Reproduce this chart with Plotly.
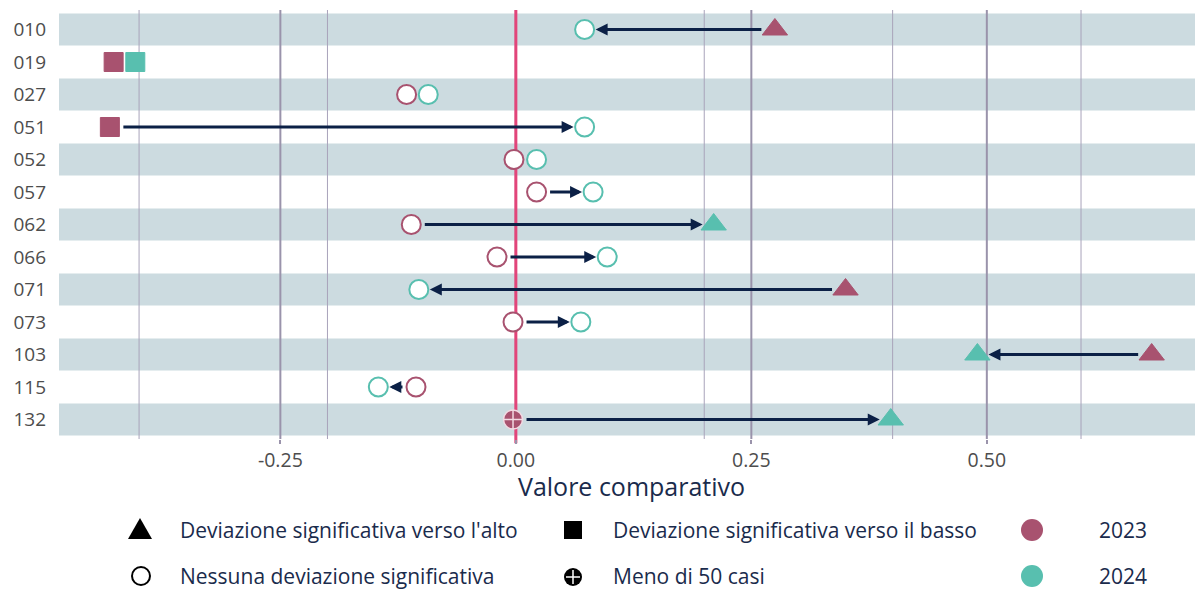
import plotly.graph_objects as go

# ---------------- data ----------------
codes = ["010", "019", "027", "051", "052", "057", "062", "066", "071", "073", "103", "115", "132"]
v2023 = [0.275, -0.427, -0.116, -0.431, -0.002, 0.022, -0.111, -0.020, 0.350, -0.003, 0.675, -0.106, -0.003]
v2024 = [0.073, -0.404, -0.093, 0.073, 0.022, 0.082, 0.210, 0.097, -0.103, 0.069, 0.490, -0.146, 0.398]
# significance status: up / down / none / few (meno di 50 casi)
s2023 = ["up", "down", "none", "down", "none", "none", "none", "none", "up", "none", "up", "none", "few"]
s2024 = ["none", "down", "none", "none", "none", "none", "up", "none", "none", "none", "up", "none", "up"]
x_ticks = [-0.25, 0.0, 0.25, 0.5]
x_ticklabels = ["-0.25", "0.00", "0.25", "0.50"]
x_minor = [-0.4, -0.2, 0.2, 0.4, 0.6]
legend_shapes = ["Deviazione significativa verso l'alto", "Nessuna deviazione significativa",
                 "Deviazione significativa verso il basso", "Meno di 50 casi"]
years = ["2023", "2024"]

# ---------------- style ----------------
C23 = "#A8526F"
C24 = "#58BFAF"
NAVY = "#0B2046"
BAND = "#CCDBE0"
GRID = "#9A93AB"
GRID_MINOR = "#A9A3BA"
ZERO = "#E2457A"
TXT = "#1A2B4C"
TICK_TXT = "#4D4D4D"
FONT = "Open Sans"

W, H = 1195, 590
ML, MR, MT, MB = 59, 0, 10, 151
PW, PH = W - ML - MR, H - MT - MB
XR = [-0.485, 0.721]
YR = [len(codes) - 0.4, -0.6]


def px2paper(px):
    return (px - ML) / PW


def py2paper(py):
    return (MT + PH - py) / PH


SYM = {"up": "triangle-up", "down": "square", "none": "circle", "few": "circle-cross"}
SIZE = {"up": 22, "down": 19, "none": 19, "few": 19}

ypos = list(range(len(codes)))


def marker_style(status, color):
    sym = [SYM[s] for s in status]
    size = [SIZE[s] for s in status]
    fill = ["white" if s == "none" else color for s in status]
    lcol = [color if s in ("none", "up", "down") else "#F2D9E2" for s in status]
    lw = [2 if s == "none" else (1.5 if s == "few" else 1) for s in status]
    return dict(symbol=sym, size=size, color=fill, line=dict(color=lcol, width=lw), opacity=1)


fig = go.Figure()

fig.add_trace(go.Scatter(x=v2023, y=ypos, mode="markers", name="2023",
                         marker=marker_style(s2023, C23), showlegend=False, cliponaxis=False))
fig.add_trace(go.Scatter(x=v2024, y=ypos, mode="markers", name="2024",
                         marker=marker_style(s2024, C24), showlegend=False, cliponaxis=False))

# arrows 2023 -> 2024
for i, (a, b) in enumerate(zip(v2023, v2024)):
    if abs(b - a) > 0.03:
        fig.add_annotation(x=b, y=i, ax=a, ay=i, xref="x", yref="y", axref="x", ayref="y",
                           text="", showarrow=True, arrowhead=2, arrowsize=0.8, arrowwidth=3,
                           arrowcolor=NAVY, standoff=11, startstandoff=12)

# alternating bands
for i in range(0, len(codes), 2):
    fig.add_shape(type="rect", xref="paper", x0=0, x1=1, yref="y", y0=i - 0.49, y1=i + 0.49,
                  fillcolor=BAND, line_width=0, layer="below")

# grid lines (drawn as shapes so the zero line can sit on top of them)
for v in x_minor:
    fig.add_shape(type="line", xref="x", x0=v, x1=v, yref="paper", y0=0, y1=1,
                  line=dict(color=GRID_MINOR, width=1), layer="below")
for v in x_ticks:
    fig.add_shape(type="line", xref="x", x0=v, x1=v, yref="paper", y0=0, y1=1,
                  line=dict(color=GRID, width=2), layer="below")

# zero line
fig.add_shape(type="line", xref="x", x0=0, x1=0, yref="paper", y0=-0.01, y1=1,
              line=dict(color=ZERO, width=3), layer="below")

# ---------------- legend (keys drawn as pixel-sized shapes) ----------------
def key(px, py, **kw):
    d = dict(xref="paper", yref="paper", xsizemode="pixel", ysizemode="pixel",
             xanchor=px2paper(px), yanchor=py2paper(py))
    d.update(kw)
    fig.add_shape(**d)


key(140, 529, type="path", path="M-12,-10 L12,-10 L0,11 Z", fillcolor="black", line_width=0)
key(141, 576, type="circle", x0=-9, x1=9, y0=-9, y1=9, fillcolor="white", line=dict(color="black", width=2))
key(573, 530, type="rect", x0=-9, x1=9, y0=-9, y1=9, fillcolor="black", line_width=0)
key(573, 577, type="circle", x0=-9, x1=9, y0=-9, y1=9, fillcolor="black", line_width=0)
key(573, 577, type="line", x0=-7, x1=7, y0=0, y1=0, line=dict(color="white", width=1.5))
key(573, 577, type="line", x0=0, x1=0, y0=-7, y1=7, line=dict(color="white", width=1.5))
key(1032, 530, type="circle", x0=-11, x1=11, y0=-11, y1=11, fillcolor=C23, line_width=0)
key(1032, 576, type="circle", x0=-11, x1=11, y0=-11, y1=11, fillcolor=C24, line_width=0)

leg_txt = legend_shapes + years
leg_tx = [178, 178, 611, 611, 1097, 1097]
leg_ty = [530, 576, 530, 576, 530, 576]
for t, x, y in zip(leg_txt, leg_tx, leg_ty):
    fig.add_annotation(x=px2paper(x), y=py2paper(y), xref="paper", yref="paper", text=t,
                       showarrow=False, xanchor="left", yanchor="middle",
                       font=dict(family=FONT, size=21, color=TXT))

# axis title
fig.add_annotation(x=px2paper(631), y=py2paper(486), xref="paper", yref="paper",
                   text="Valore comparativo", showarrow=False, xanchor="center", yanchor="middle",
                   font=dict(family=FONT, size=25, color=TXT))

fig.update_layout(
    width=W, height=H,
    margin=dict(l=ML, r=MR, t=MT, b=MB, autoexpand=False),
    paper_bgcolor="white", plot_bgcolor="white",
    font=dict(family=FONT, color=TICK_TXT),
    showlegend=False,
    xaxis=dict(range=XR, tickvals=x_ticks, ticktext=x_ticklabels,
               showgrid=False,
               ticks="outside", ticklen=4, tickwidth=2, tickcolor=GRID,
               tickfont=dict(family=FONT, size=19.5, color=TICK_TXT),
               ticklabelstandoff=0,
               zeroline=False, showline=False, automargin=False),
    yaxis=dict(range=YR, tickvals=ypos, ticktext=codes,
               showgrid=False, zeroline=False, showline=False, automargin=False,
               ticks="", tickfont=dict(family=FONT, size=19, color=TICK_TXT), ticklabelstandoff=12),
)

fig.write_html("out.html", config={"displayModeBar": False},
               post_script="document.body.style.margin='0px';")
